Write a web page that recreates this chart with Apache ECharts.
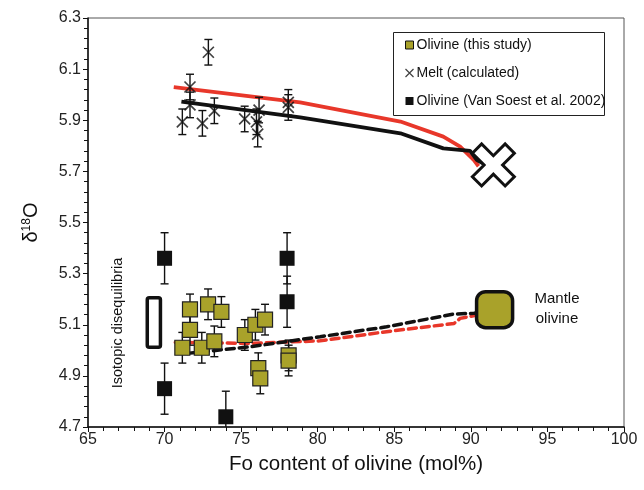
<!DOCTYPE html>
<html>
<head>
<meta charset="utf-8">
<script src="https://cdn.jsdelivr.net/npm/echarts@6/dist/echarts.min.js"></script>
<style>html,body{margin:0;padding:0;background:#fff}#c{width:644px;height:490px}</style>
</head>
<body>
<div id="c"></div>
<script>
// ---- data ----
const xTicks = [65, 70, 75, 80, 85, 90, 95, 100];
const yTicks = [4.7, 4.9, 5.1, 5.3, 5.5, 5.7, 5.9, 6.1, 6.3];

const oliveThisStudy = [
  [71.66, 5.16], [71.66, 5.08], [71.16, 5.01], [72.43, 5.01], [72.84, 5.18],
  [73.25, 5.035], [73.71, 5.15], [75.24, 5.06], [75.93, 5.10], [76.56, 5.12],
  [76.12, 4.93], [76.25, 4.89], [78.1, 4.98], [78.1, 4.96]
];
const oliveErr = 0.06;

const meltCalculated = [
  [72.86, 6.166], [71.66, 6.03], [71.66, 5.96], [71.16, 5.894], [72.47, 5.888],
  [73.25, 5.937], [75.23, 5.905], [76.0, 5.894], [76.17, 5.94], [76.08, 5.846],
  [78.08, 5.97], [78.08, 5.95]
];
const meltErr = 0.05;

const oliveVanSoest = [
  [70.0, 5.36], [70.0, 4.85], [74.0, 4.74], [78.0, 5.36], [78.0, 5.19]
];
const vanSoestErr = 0.1;

const meltRedLine = [[70.6, 6.03], [78.85, 5.97], [85.4, 5.895], [88.2, 5.836], [89.3, 5.797], [90.2, 5.744], [90.5, 5.72]];
const meltBlackLine = [[71.1, 5.973], [78.85, 5.911], [85.4, 5.849], [88.2, 5.79], [89.95, 5.78], [90.4, 5.744], [91.0, 5.725]];
const oliveBlackDashed = [[71.5, 4.988], [75.6, 5.014], [80.15, 5.053], [84.5, 5.092], [88.9, 5.142], [90.2, 5.145], [91.0, 5.15]];
const oliveRedDashed = [[70.7, 5.031], [75.6, 5.027], [80.15, 5.037], [84.5, 5.073], [88.9, 5.105], [89.3, 5.125], [90.4, 5.138], [91.0, 5.145]];

const meltEndMember = [[91.47, 5.725]];
const mantleOlivine = [[91.55, 5.159]];
const disequilibriumBox = [[68.87, 69.73, 5.012, 5.206]];

// ---- chart ----
const FONT = 'Liberation Sans, Arial, sans-serif';
const OLIVE = '#a9a22a';
const RED = '#e8372a';

function errRender(params, api) {
  const x = api.value(0), y = api.value(1), e = api.value(2);
  const t = api.coord([x, y + e]), b = api.coord([x, y - e]);
  const hw = 4;
  const st = { stroke: '#111', lineWidth: 1.4 };
  return {
    type: 'group',
    children: [
      { type: 'line', shape: { x1: t[0], y1: t[1], x2: b[0], y2: b[1] }, style: st },
      { type: 'line', shape: { x1: t[0] - hw, y1: t[1], x2: t[0] + hw, y2: t[1] }, style: st },
      { type: 'line', shape: { x1: b[0] - hw, y1: b[1], x2: b[0] + hw, y2: b[1] }, style: st }
    ]
  };
}

const chart = echarts.init(document.getElementById('c'), null, { renderer: 'canvas' });
const X_PATH = 'path://M0,22L22,0L50,28L78,0L100,22L72,50L100,78L78,100L50,72L22,100L0,78L28,50Z';
const CROSS_PATH = 'path://M0,0L10,10M10,0L0,10';

chart.setOption({
  animation: false,
  textStyle: { fontFamily: FONT },
  grid: { left: 88, right: 20, top: 18, bottom: 63, show: true, borderColor: '#555', borderWidth: 1 },
  xAxis: {
    type: 'value', min: xTicks[0], max: xTicks[xTicks.length - 1], interval: 5,
    name: 'Fo content of olivine (mol%)', nameLocation: 'middle', nameGap: 27,
    nameTextStyle: { fontSize: 20.5, color: '#111', fontFamily: FONT },
    axisLine: { lineStyle: { color: '#111', width: 1.5 } },
    axisTick: { inside: false, length: 5, lineStyle: { color: '#111' } },
    minorTick: { show: true, splitNumber: 5, length: 4, lineStyle: { color: '#111' } },
    axisLabel: { fontSize: 16, color: '#222', margin: 5, fontFamily: FONT },
    splitLine: { show: false }
  },
  yAxis: {
    type: 'value', min: yTicks[0], max: yTicks[yTicks.length - 1], interval: 0.2,
    name: '{a|δ}{s|18}{a|O}', nameLocation: 'middle', nameGap: 46,
    nameTextStyle: {
      color: '#111', fontFamily: FONT,
      rich: { a: { fontSize: 20, fontFamily: FONT, color: '#111' }, s: { fontSize: 12, fontFamily: FONT, color: '#111', padding: [0, 0, 9, 0] } }
    },
    axisLine: { lineStyle: { color: '#111', width: 1.5 } },
    axisTick: { inside: false, length: 5, lineStyle: { color: '#111' } },
    minorTick: { show: true, splitNumber: 5, length: 4, lineStyle: { color: '#111' } },
    axisLabel: { fontSize: 16, color: '#222', margin: 7, fontFamily: FONT, formatter: v => v.toFixed(1) },
    splitLine: { show: false }
  },
  legend: {
    orient: 'vertical', left: 403, top: 37, padding: 0, itemGap: 12,
    itemWidth: 8, itemHeight: 8,
    textStyle: { fontSize: 14, lineHeight: 16, color: '#111', fontFamily: FONT, padding: [0, 0, 0, -2] },
    data: [
      { name: 'Olivine (this study)', icon: 'rect', itemStyle: { color: OLIVE, borderColor: '#111', borderWidth: 1 } },
      { name: 'Melt (calculated)', icon: CROSS_PATH, itemStyle: { color: 'none', borderColor: '#111', borderWidth: 1.2 } },
      { name: 'Olivine (Van Soest et al. 2002)', icon: 'rect', itemStyle: { color: '#111', borderColor: '#111', borderWidth: 0 } }
    ]
  },
  graphic: [
    { type: 'rect', left: 391, top: 30, shape: { width: 211, height: 83 }, style: { fill: 'none', stroke: '#222', lineWidth: 1 }, z: 1 },
    { type: 'text', x: 118, y: 323, rotation: Math.PI / 2, style: { text: 'Isotopic disequilibria', font: '14.5px ' + FONT, fill: '#111', align: 'center', verticalAlign: 'middle' } },
    { type: 'text', x: 557, y: 309, style: { text: 'Mantle\nolivine', font: '15px ' + FONT, fill: '#111', align: 'center', verticalAlign: 'middle', lineHeight: 20 } }
  ],
  series: [
    { name: 'oliveRedDashed', type: 'line', data: oliveRedDashed, showSymbol: false, z: 2, lineStyle: { color: RED, width: 3.5, type: [8, 5], cap: 'round' } },
    { name: 'oliveBlackDashed', type: 'line', data: oliveBlackDashed, showSymbol: false, z: 2, lineStyle: { color: '#111', width: 3.5, type: [8, 5], cap: 'round' } },
    { name: 'meltRed', type: 'line', data: meltRedLine, showSymbol: false, z: 2, lineStyle: { color: RED, width: 3.8 } },
    { name: 'meltBlack', type: 'line', data: meltBlackLine, showSymbol: false, z: 2, lineStyle: { color: '#111', width: 3.8 } },
    {
      name: 'box', type: 'custom', z: 3, clip: true, data: disequilibriumBox,
      renderItem: (p, api) => {
        const a = api.coord([api.value(0), api.value(3)]), b = api.coord([api.value(1), api.value(2)]);
        return { type: 'rect', shape: { x: a[0], y: a[1], width: b[0] - a[0], height: b[1] - a[1], r: 2 }, style: { fill: '#fff', stroke: '#111', lineWidth: 3.5 } };
      }
    },
    { name: 'errMelt', type: 'custom', z: 4, clip: true, data: meltCalculated.map(p => [p[0], p[1], meltErr]), renderItem: errRender },
    { name: 'errOlive', type: 'custom', z: 4, clip: true, data: oliveThisStudy.map(p => [p[0], p[1], oliveErr]), renderItem: errRender },
    { name: 'errVS', type: 'custom', z: 4, clip: true, data: oliveVanSoest.map(p => [p[0], p[1], vanSoestErr]), renderItem: errRender },
    { name: 'Melt (calculated)', type: 'scatter', z: 5, data: meltCalculated, symbol: CROSS_PATH, symbolSize: 11, itemStyle: { color: 'none', borderColor: '#111', borderWidth: 1.7 } },
    { name: 'Olivine (this study)', type: 'scatter', z: 5, data: oliveThisStudy, symbol: 'rect', symbolSize: 15, itemStyle: { color: OLIVE, borderColor: '#222', borderWidth: 1.2, opacity: 1 } },
    { name: 'Olivine (Van Soest et al. 2002)', type: 'scatter', z: 5, clip: true, data: oliveVanSoest, symbol: 'rect', symbolSize: 15, itemStyle: { color: '#111', borderColor: '#111', borderWidth: 0, opacity: 1 } },
    { name: 'meltEnd', type: 'scatter', z: 6, data: meltEndMember, symbol: X_PATH, symbolSize: 42, itemStyle: { color: '#fff', borderColor: '#111', borderWidth: 3, opacity: 1 } },
    { name: 'mantle', type: 'scatter', z: 6, data: mantleOlivine, symbol: 'roundRect', symbolSize: 36, itemStyle: { color: OLIVE, borderColor: '#111', borderWidth: 3.5, opacity: 1 } }
  ]
});
</script>
</body>
</html>
